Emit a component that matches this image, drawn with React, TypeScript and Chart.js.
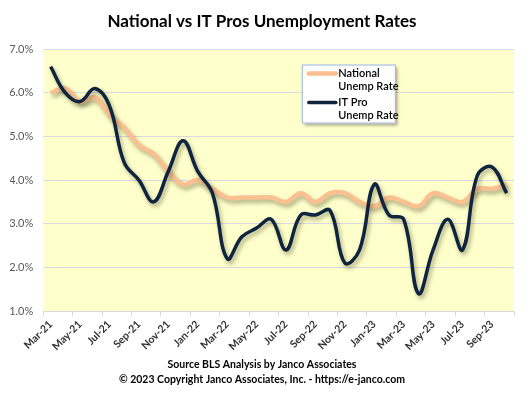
import React, { useEffect, useRef } from 'react';
import { Chart, registerables } from 'chart.js';

Chart.register(...registerables);

// ---- data ----
const months = [
  'Mar-21', 'Apr-21', 'May-21', 'Jun-21', 'Jul-21', 'Aug-21', 'Sep-21', 'Oct-21',
  'Nov-21', 'Dec-21', 'Jan-22', 'Feb-22', 'Mar-22', 'Apr-22', 'May-22', 'Jun-22',
  'Jul-22', 'Aug-22', 'Sep-22', 'Oct-22', 'Nov-22', 'Dec-22', 'Jan-23', 'Feb-23',
  'Mar-23', 'Apr-23', 'May-23', 'Jun-23', 'Jul-23', 'Aug-23', 'Sep-23', 'Oct-23',
];
const nationalRate = [
  6.0, 6.1, 5.8, 5.9, 5.5, 5.2, 4.8, 4.6, 4.2, 3.9, 4.0, 3.8, 3.6, 3.6, 3.6, 3.6,
  3.5, 3.7, 3.5, 3.7, 3.7, 3.5, 3.4, 3.6, 3.5, 3.4, 3.7, 3.6, 3.5, 3.8, 3.8, 3.9,
];
const itProRate = [
  6.6, 6.0, 5.8, 6.1, 5.7, 4.4, 4.0, 3.5, 4.2, 4.9, 4.2, 3.7, 2.2, 2.7, 2.9, 3.1,
  2.4, 3.2, 3.2, 3.3, 2.1, 2.4, 3.9, 3.2, 3.1, 1.4, 2.4, 3.1, 2.4, 4.1, 4.3, 3.7,
];
const legendNational = ['National', 'Unemp Rate'];
const legendItPro = ['IT Pro', 'Unemp Rate'];
const titleText = 'National vs IT Pros Unemployment Rates';
const footerLines = [
  'Source BLS Analysis by Janco Associates',
  '\u00A9 2023 Copyright Janco Associates, Inc. - https://e-janco.com',
];
const yMin = 1;
const yMax = 7;

// ---- styles ----
const FONT = 'Lato, "Open Sans", "DejaVu Sans", sans-serif';
const NATIONAL_COLOR = '#FAC090';
const ITPRO_COLOR = '#0F243E';

const plotBgPlugin = {
  id: 'plotBg',
  beforeDraw(chart: any) {
    const { ctx, chartArea } = chart;
    if (!chartArea) return;
    ctx.save();
    ctx.fillStyle = '#FFFFCC';
    ctx.fillRect(chartArea.left, chartArea.top, chartArea.right - chartArea.left, chartArea.bottom - chartArea.top);
    ctx.restore();
  },
};

const lineShadowPlugin = {
  id: 'lineShadow',
  beforeDatasetDraw(chart: any) {
    const ctx = chart.ctx;
    ctx.save();
    ctx.shadowColor = 'rgba(40,40,0,0.38)';
    ctx.shadowBlur = 4;
    ctx.shadowOffsetX = 2;
    ctx.shadowOffsetY = 3;
  },
  afterDatasetDraw(chart: any) {
    chart.ctx.restore();
  },
};

const boxLegendPlugin = {
  id: 'boxLegend',
  afterDraw(chart: any) {
    const { ctx, chartArea } = chart;
    const left = chartArea.left + 258.5;
    const top = chartArea.top + 15.3;
    const w = 94;
    const h = 59;
    ctx.save();
    ctx.shadowColor = 'rgba(0,0,0,0.35)';
    ctx.shadowBlur = 3;
    ctx.shadowOffsetX = 2;
    ctx.shadowOffsetY = 2;
    ctx.fillStyle = '#FFFFFF';
    ctx.fillRect(left, top, w, h);
    ctx.restore();
    ctx.save();
    ctx.strokeStyle = '#95B3D7';
    ctx.lineWidth = 1;
    ctx.strokeRect(left + 0.5, top + 0.5, w - 1, h - 1);

    const items = [
      { lines: legendNational, color: NATIONAL_COLOR, width: 4.5, y: 9 },
      { lines: legendItPro, color: ITPRO_COLOR, width: 3.5, y: 38 },
    ];
    ctx.font = `600 11px ${FONT}`;
    ctx.fillStyle = '#000000';
    ctx.textBaseline = 'middle';
    ctx.textAlign = 'left';
    items.forEach((it) => {
      ctx.beginPath();
      ctx.strokeStyle = it.color;
      ctx.lineWidth = it.width;
      ctx.lineCap = 'round';
      ctx.moveTo(left + 7, top + it.y);
      ctx.lineTo(left + 34, top + it.y);
      ctx.stroke();
      it.lines.forEach((t, i) => {
        ctx.fillText(t, left + 36.5, top + it.y + i * 13.3);
      });
    });
    ctx.restore();
  },
};

export default function App() {
  const canvasRef = useRef<HTMLCanvasElement | null>(null);

  useEffect(() => {
    if (!canvasRef.current) return;
    const chart = new Chart(canvasRef.current, {
      type: 'line',
      data: {
        labels: months,
        datasets: [
          {
            label: 'National Unemp Rate',
            data: nationalRate,
            borderColor: NATIONAL_COLOR,
            backgroundColor: NATIONAL_COLOR,
            borderWidth: 4.5,
            pointRadius: 0,
            tension: 0.4,
            fill: false,
            order: 2,
          },
          {
            label: 'IT Pro Unemp Rate',
            data: itProRate,
            borderColor: ITPRO_COLOR,
            backgroundColor: ITPRO_COLOR,
            borderWidth: 3.5,
            pointRadius: 0,
            tension: 0.4,
            fill: false,
            order: 1,
          },
        ],
      },
      options: {
        responsive: false,
        animation: false,
        devicePixelRatio: 1,
        layout: { padding: { left: 10, right: 18, top: 0, bottom: 0 } },
        scales: {
          x: {
            type: 'category',
            offset: true,
            grid: {
              offset: true,
              drawOnChartArea: false,
              drawTicks: true,
              tickLength: 5,
              lineWidth: 1,
              color: (ctx: any) =>
                ctx.index === undefined || ctx.index % 2 === 0 ? '#D9D9D9' : 'rgba(0,0,0,0)',
            },
            border: { display: true, color: '#D9D9D9', width: 1 },
            ticks: {
              autoSkip: false,
              maxRotation: 45,
              minRotation: 45,
              padding: 2,
              color: '#333333',
              font: { family: FONT, size: 10.5, weight: 'bold' },
              callback: (_v: any, i: number) => (i % 2 === 0 ? months[i] : ''),
            },
            afterFit: (s: any) => {
              s.height = 46;
            },
          },
          y: {
            min: yMin,
            max: yMax,
            grid: { color: '#D9D9E3', lineWidth: 1, drawTicks: false },
            border: { display: false },
            ticks: {
              stepSize: 1,
              padding: 10,
              color: '#595959',
              font: { family: FONT, size: 11 },
              callback: (v: any) => Number(v).toFixed(1) + '%',
            },
            afterFit: (s: any) => {
              s.width = 33.3;
            },
          },
        },
        plugins: {
          legend: { display: false },
          tooltip: { enabled: false },
          title: {
            display: true,
            text: titleText,
            color: '#000000',
            font: { family: FONT, size: 17, weight: 'bold', lineHeight: 1.2 },
            padding: { top: 11.5, bottom: 17.3 },
          },
          subtitle: {
            display: true,
            position: 'bottom',
            text: footerLines,
            color: '#000000',
            font: { family: FONT, size: 10.5, weight: 'bold', lineHeight: 15 / 10.5 },
            padding: { top: 0, bottom: 10 },
          },
        },
      },
      plugins: [plotBgPlugin, lineShadowPlugin, boxLegendPlugin],
    } as any);
    return () => chart.destroy();
  }, []);

  return (
    <div style={{ position: 'absolute', left: 0, top: 0, width: 532, height: 397, background: '#FFFFFF' }}>
      <canvas ref={canvasRef} width={532} height={397} style={{ display: 'block', width: 532, height: 397 }} />
    </div>
  );
}
